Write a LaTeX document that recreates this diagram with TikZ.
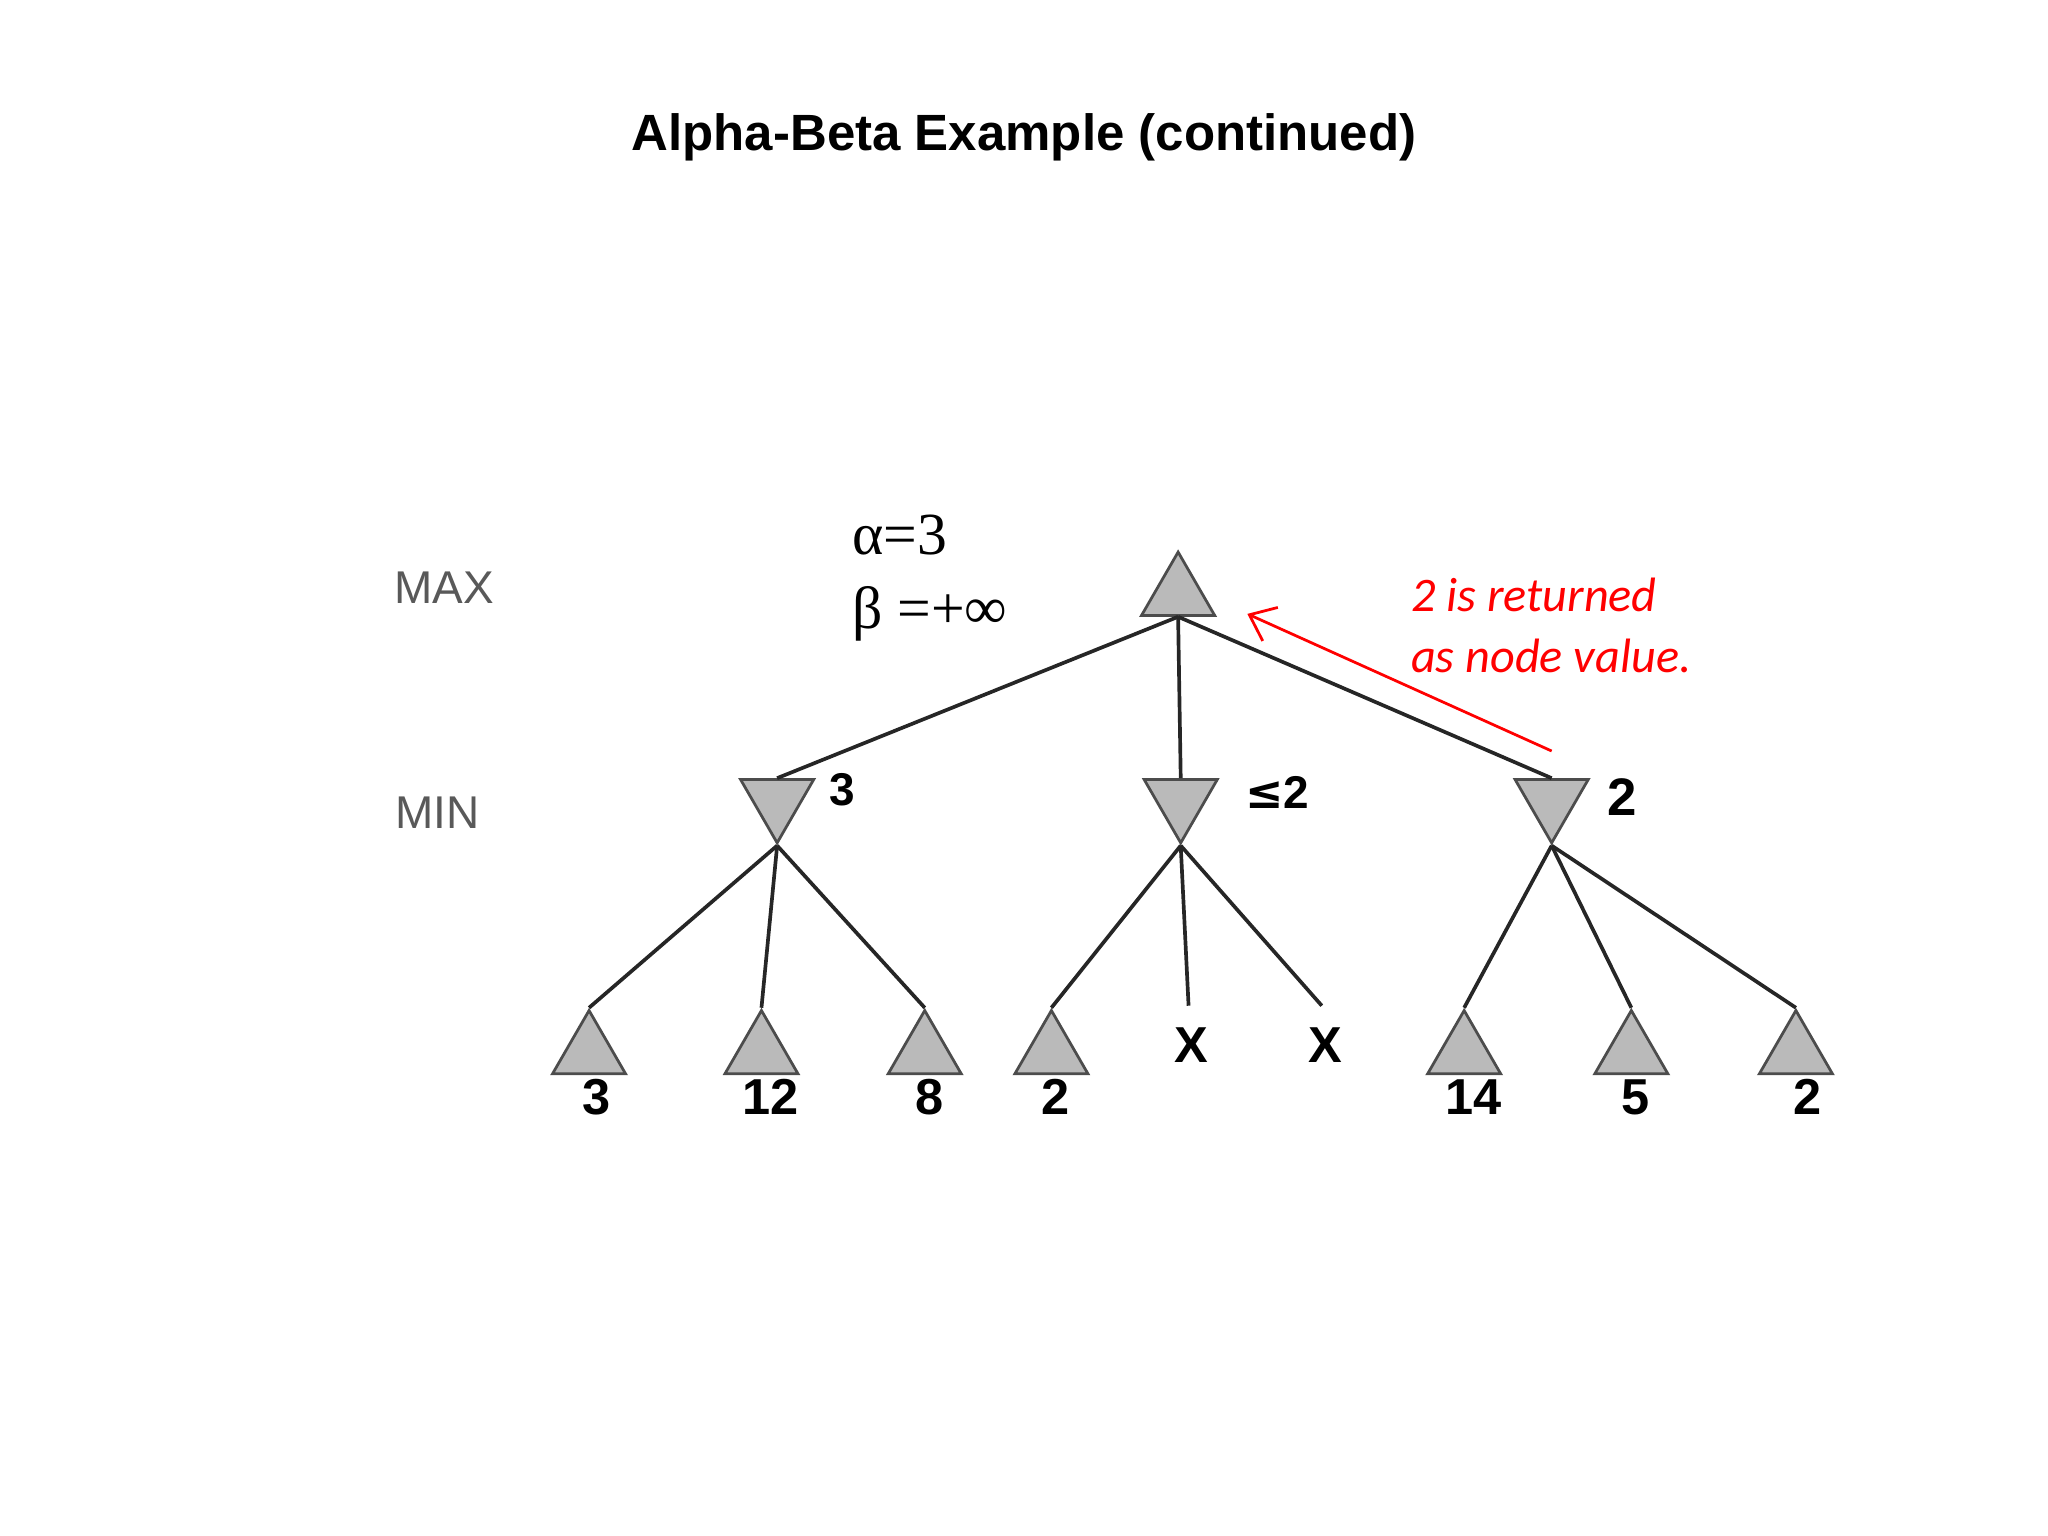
\documentclass[tikz,border=0pt]{standalone}
\usepackage{fontspec}
\setmainfont{Liberation Serif}
\setsansfont{Liberation Sans}
\newfontfamily\redfont{Carlito}
\newfontfamily\symfont{DejaVu Sans}
\usetikzlibrary{shapes.geometric,arrows.meta}
\begin{document}
\begin{tikzpicture}[x=0.01cm,y=-0.01cm,
  tri/.style={regular polygon,regular polygon sides=3,minimum size=0.646cm,inner sep=0pt,fill=black!27,draw=black!70,line width=0.6pt},
  dtri/.style={tri,shape border rotate=180},
  edge/.style={line width=0.8pt,black!85},
  leaflab/.style={font=\sffamily\bfseries\fontsize{11}{12}\selectfont},
  lvl/.style={font=\sffamily\fontsize{10}{12}\selectfont,text=black!65}]
\useasboundingbox (0,0) rectangle (1568,1176);
\node[font=\sffamily\bfseries\fontsize{11.1}{12}\selectfont] (title) at (784,105) {Alpha-Beta Example (continued)};
\node[lvl] (max) at (340,450) {MAX};
\node[lvl] (min) at (335,622) {MIN};
\node[tri] (r) at (902,455) {};
\node[dtri] (m1) at (595,613) {};
\node[dtri] (m2) at (904,613) {};
\node[dtri] (m3) at (1188,613) {};
\foreach \n/\x in {l1/451,l2/583,l3/708,l4/805,l5/1121,l6/1249,l7/1375}
  \node[tri] (\n) at (\x,806) {};
\foreach \n/\x/\t in {a1/457/3,a2/590/12,a3/712/8,a4/808/2,a5/1128/14,a6/1252/5,a7/1384/2}
  \node[leaflab] (\n) at (\x,840) {\t};
\node[leaflab] (x1) at (912,800) {X};
\node[leaflab] (x2) at (1015,800) {X};
\coordinate (x1t) at (910,770);
\coordinate (x2t) at (1012,770);
\draw[edge] (r.south) -- (m1.north);
\draw[edge] (r.south) -- (m2.north);
\draw[edge] (r.south) -- (m3.north);
\draw[edge] (m1.corner 1) -- (l1.corner 1);
\draw[edge] (m1.corner 1) -- (l2.corner 1);
\draw[edge] (m1.corner 1) -- (l3.corner 1);
\draw[edge] (m2.corner 1) -- (l4.corner 1);
\draw[edge] (m2.corner 1) -- (x1t);
\draw[edge] (m2.corner 1) -- (x2t);
\draw[edge] (m3.corner 1) -- (l5.corner 1);
\draw[edge] (m3.corner 1) -- (l6.corner 1);
\draw[edge] (m3.corner 1) -- (l7.corner 1);
\node[leaflab,font=\sffamily\bfseries\fontsize{10}{12}\selectfont] (v1) at (645,605) {3};
\node[font=\sffamily\bfseries\fontsize{10}{12}\selectfont] (v2) at (978,607) {{\symfont ≤}2};
\node[font=\sffamily\bfseries\fontsize{11.5}{12}\selectfont] (v3) at (1242,610) {2};
\node[font=\fontsize{13}{14}\selectfont,anchor=west] (al) at (640,410) {α=3};
\node[font=\fontsize{13}{14}\selectfont,anchor=west] (be) at (640,470) {β =+∞};
\node[font=\redfont\itshape\fontsize{10.5}{13.4}\selectfont,text=red,align=left,anchor=north west] (note) at (1068,430) {2 is returned\\as node value.};
\coordinate (as) at (1188,575);
\coordinate (ae) at (955,470);
\draw[red,line width=0.6pt,-{Straight Barb[length=5pt,width=8pt]}] (as) -- (ae);
\end{tikzpicture}
\end{document}
